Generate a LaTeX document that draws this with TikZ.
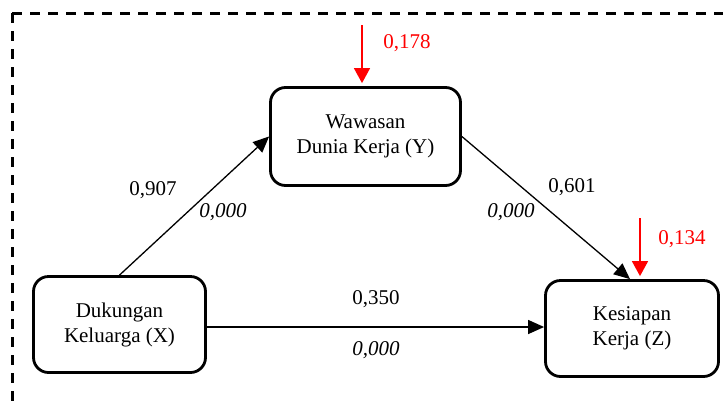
\documentclass[tikz,border=0pt]{standalone}
\usepackage{fontspec}
\setmainfont{Liberation Serif}
\usetikzlibrary{arrows.meta}
\tikzset{
  box/.style={draw, line width=2.8pt, rounded corners=15pt, align=center, inner sep=0pt,
    font=\fontsize{21}{25}\selectfont},
  lbl/.style={font=\fontsize{21}{25}\selectfont},
  pth/.style={-{Triangle[length=16pt,width=14pt]}, line width=1.3pt},
  err/.style={red, -{Triangle[length=15pt,width=16pt]}, line width=1.5pt, shorten >=3pt},
  frame/.style={line width=3pt, dash pattern=on 10pt off 8pt}
}

\begin{document}
\begin{tikzpicture}[x=1pt,y=-1pt]
\clip (0,0) rectangle (723,408);
\draw [frame] (12,13) -- (740,13);
\draw [frame] (12,13) -- (12,420);

\node [box, minimum width=190pt, minimum height=98pt] (Y) at (365.5,136.5) {Wawasan\\Dunia Kerja (Y)};
\node [box, minimum width=172pt, minimum height=96pt] (X) at (119.5,324.5) {Dukungan\\Keluarga (X)};
\node [box, minimum width=173pt, minimum height=96pt] (Z) at (632,328.5) {Kesiapan\\Kerja (Z)};

\draw [pth] (X.north) -- (Y.west);
\draw [pth] (Y.east) -- ([xshift=-2pt]Z.north);
\draw [pth] ([yshift=-2.5pt]X.east) -- ([yshift=-2.5pt]X.east -| Z.west);

\coordinate (eY) at (362,25);
\coordinate (eZ) at (640,218);
\draw [err] (eY) -- (eY |- Y.north);
\draw [err] (eZ) -- (eZ |- Z.north);

\node [lbl] (pXY) at (153,190) {0,907};
\node [lbl] (sXY) at (223,212) {\textit{0,000}};
\node [lbl] (pYZ) at (572,187) {0,601};
\node [lbl] (sYZ) at (511,212) {\textit{0,000}};
\node [lbl] (pXZ) at (376,299) {0,350};
\node [lbl] (sXZ) at (376,350) {\textit{0,000}};
\node [lbl, red] (rY) at (407,43) {0,178};
\node [lbl, red] (rZ) at (682,239) {0,134};
\end{tikzpicture}
\end{document}
